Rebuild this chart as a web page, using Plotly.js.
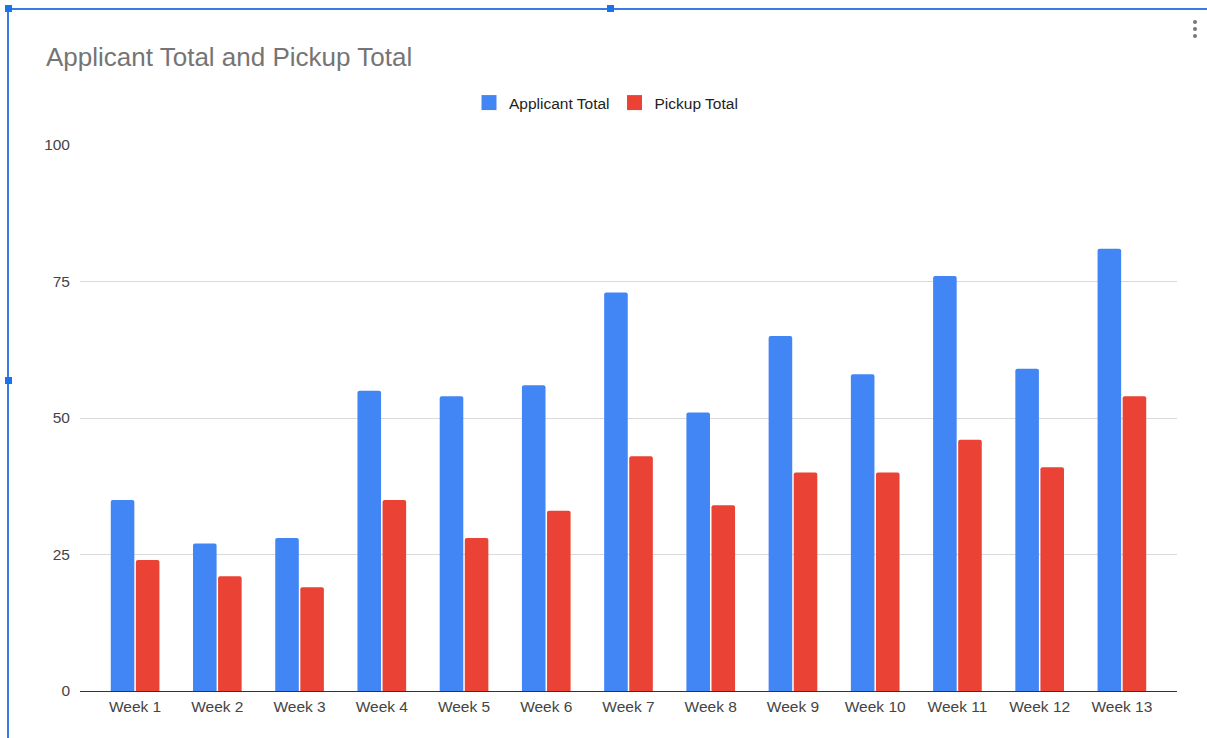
<!DOCTYPE html>
<html>
<head>
<meta charset="utf-8">
<script src="https://cdn.plot.ly/plotly-3.0.1.min.js"></script>
<style>
html,body{margin:0;padding:0;background:#fff;}
#wrap{position:relative;width:1207px;height:738px;overflow:hidden;}
#chart{position:absolute;left:0;top:0;width:1207px;height:738px;}
.bl{position:absolute;background:#3b7be0;}
.hd{position:absolute;width:7px;height:7px;background:#1a73e8;}
.dot{position:absolute;width:4px;height:4px;border-radius:2px;background:#777;}
</style>
</head>
<body>
<div id="wrap">
<div id="chart"></div>
<div class="bl" style="left:7px;top:8px;width:2px;height:730px;"></div>
<div class="bl" style="left:7px;top:8px;width:1200px;height:1.5px;"></div>
<div class="hd" style="left:5px;top:5px;"></div>
<div class="hd" style="left:607px;top:5px;"></div>
<div class="hd" style="left:5px;top:377px;"></div>
<div class="dot" style="left:1193px;top:20px;"></div>
<div class="dot" style="left:1193px;top:27px;"></div>
<div class="dot" style="left:1193px;top:34px;"></div>
</div>
<script>
const weeks = ["Week 1","Week 2","Week 3","Week 4","Week 5","Week 6","Week 7","Week 8","Week 9","Week 10","Week 11","Week 12","Week 13"];
const applicantTotal = [35,27,28,55,54,56,73,51,65,58,76,59,81];
const pickupTotal = [24,21,19,35,28,33,43,34,40,40,46,41,54];
const yTicks = [0,25,50,75,100];
const seriesNames = ["Applicant Total","Pickup Total"];
const seriesColors = ["#4285F4","#EA4335"];

const font = "Arial, 'Liberation Sans', sans-serif";
const data = [
  {type:'bar', name:seriesNames[0], x:weeks, y:applicantTotal, showlegend:false,
   marker:{color:seriesColors[0], cornerradius:2}, hoverinfo:'x+y+name'},
  {type:'bar', name:seriesNames[1], x:weeks, y:pickupTotal, showlegend:false,
   marker:{color:seriesColors[1], cornerradius:2}, hoverinfo:'x+y+name'}
];
seriesNames.forEach((n,i)=>{
  data.push({type:'scatter', mode:'markers', name:n, x:[weeks[0]], y:[null], showlegend:true,
             marker:{symbol:'square', size:15, color:seriesColors[i]}, hoverinfo:'skip'});
});
const layout = {
  width:1207, height:738,
  margin:{l:80, r:30, t:145, b:47},
  paper_bgcolor:'#fff', plot_bgcolor:'#fff',
  barmode:'group', bargap:0.39, bargroupgap:0.06,
  title:{text:'Applicant Total and Pickup Total', x:46/1207, xanchor:'left', y:1-57/738, yanchor:'middle',
         font:{family:font, size:26, color:'#757575'}},
  showlegend:true,
  legend:{orientation:'h', x:(606-80)/1097, xanchor:'center', y:1+(145-103)/546, yanchor:'middle',
          font:{family:font, size:15.5, color:'#222'}, traceorder:'normal'},
  xaxis:{type:'category', range:[-0.67,12.67], showgrid:false, zeroline:false,
         showline:false, ticks:'', ticklabelstandoff:4, tickfont:{family:font, size:15.5, color:'#444'}, fixedrange:true},
  yaxis:{range:[0,100], tickvals:yTicks, ticktext:yTicks.map(String), showgrid:true,
         gridcolor:'#d9d9d9', gridwidth:1, zeroline:true, zerolinecolor:'#333', zerolinewidth:1,
         showline:false, ticks:'', ticklabelstandoff:9, tickfont:{family:font, size:15.5, color:'#444'}, fixedrange:true},
  hovermode:'closest'
};
Plotly.newPlot('chart', data, layout, {displayModeBar:false});
</script>
</body>
</html>
